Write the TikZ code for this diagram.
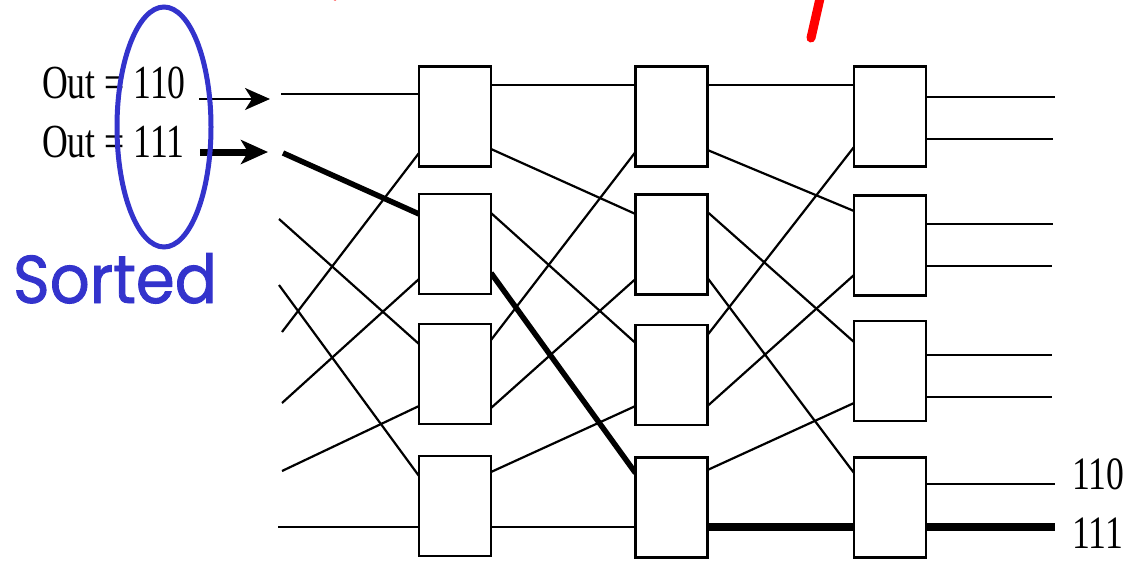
\documentclass[tikz,border=0pt]{standalone}
\usepackage{fontspec}
\setmainfont{Liberation Serif}
\newfontfamily\sortfont[FakeBold=1.3]{Poppins}
\usetikzlibrary{arrows.meta,backgrounds}
\definecolor{sortblue}{RGB}{51,51,204}
\definecolor{markred}{RGB}{255,0,0}
\begin{document}
\begin{tikzpicture}[x=1pt,y=-1pt,
  swbox/.style={draw=black,line width=2.3pt,fill=white,minimum width=72pt,minimum height=100pt,inner sep=0pt,outer sep=0pt},
  wire/.style={line width=2.2pt,line cap=butt},
  hot/.style={line width=5.5pt},
  hoth/.style={line width=7.5pt},
  lbl/.style={anchor=base west,inner sep=0pt,outer sep=0pt},
  numfont/.style={font=\fontsize{35.7}{40}\selectfont},
  arrowthin/.style={line width=2.2pt,-{Stealth[length=25pt,width=22pt,inset=7pt]}},
  arrowthick/.style={line width=7pt,-{Stealth[length=27pt,width=24pt,inset=7pt]}}]
\useasboundingbox (0,0) rectangle (1127,560);
\clip (0,0) rectangle (1127,560);

% switch boxes
\node[swbox] (a1) at (455,116.5) {};
\node[swbox] (a2) at (455,244) {};
\node[swbox] (a3) at (455,374) {};
\node[swbox] (a4) at (455,506) {};
\node[swbox] (b1) at (671.5,116.5) {};
\node[swbox] (b2) at (671.5,244.5) {};
\node[swbox] (b3) at (671.5,375) {};
\node[swbox] (b4) at (671.5,507.5) {};
\node[swbox] (c1) at (890,116.5) {};
\node[swbox] (c2) at (890,245.5) {};
\node[swbox] (c3) at (890,371) {};
\node[swbox] (c4) at (890,507.5) {};

% ports
\coordinate (a1-i1) at (a1.west |- 0,94);  \coordinate (a1-i2) at (a1.west |- 0,153);
\coordinate (a2-i1) at (a2.west |- 0,214); \coordinate (a2-i2) at (a2.west |- 0,279);
\coordinate (a3-i1) at (a3.west |- 0,344); \coordinate (a3-i2) at (a3.west |- 0,406);
\coordinate (a4-i1) at (a4.west |- 0,476); \coordinate (a4-i2) at (a4.west |- 0,527);
\coordinate (a1-o1) at (a1.east |- 0,85);  \coordinate (a1-o2) at (a1.east |- 0,149);
\coordinate (a2-o1) at (a2.east |- 0,213); \coordinate (a2-o2) at (a2.east |- 0,273);
\coordinate (a3-o1) at (a3.east |- 0,340); \coordinate (a3-o2) at (a3.east |- 0,408);
\coordinate (a4-o1) at (a4.east |- 0,472); \coordinate (a4-o2) at (a4.east |- 0,527);

\coordinate (b1-i1) at (b1.west |- 0,85);  \coordinate (b1-i2) at (b1.west |- 0,152);
\coordinate (b2-i1) at (b2.west |- 0,214); \coordinate (b2-i2) at (b2.west |- 0,279);
\coordinate (b3-i1) at (b3.west |- 0,343); \coordinate (b3-i2) at (b3.west |- 0,406);
\coordinate (b4-i1) at (b4.west |- 0,473); \coordinate (b4-i2) at (b4.west |- 0,527);
\coordinate (b1-o1) at (b1.east |- 0,85);  \coordinate (b1-o2) at (b1.east |- 0,150);
\coordinate (b2-o1) at (b2.east |- 0,212); \coordinate (b2-o2) at (b2.east |- 0,278);
\coordinate (b3-o1) at (b3.east |- 0,335); \coordinate (b3-o2) at (b3.east |- 0,406);
\coordinate (b4-o1) at (b4.east |- 0,470); \coordinate (b4-o2) at (b4.east |- 0,527);

\coordinate (c1-i1) at (c1.west |- 0,85);  \coordinate (c1-i2) at (c1.west |- 0,147);
\coordinate (c2-i1) at (c2.west |- 0,211); \coordinate (c2-i2) at (c2.west |- 0,275);
\coordinate (c3-i1) at (c3.west |- 0,342); \coordinate (c3-i2) at (c3.west |- 0,403);
\coordinate (c4-i1) at (c4.west |- 0,473); \coordinate (c4-i2) at (c4.west |- 0,527);
\coordinate (c1-o1) at (c1.east |- 0,97);  \coordinate (c1-o2) at (c1.east |- 0,139);
\coordinate (c2-o1) at (c2.east |- 0,224); \coordinate (c2-o2) at (c2.east |- 0,266);
\coordinate (c3-o1) at (c3.east |- 0,355); \coordinate (c3-o2) at (c3.east |- 0,397);
\coordinate (c4-o1) at (c4.east |- 0,484); \coordinate (c4-o2) at (c4.east |- 0,527);

% free ends
\coordinate (in0) at (281,94);  \coordinate (in1) at (283,153);
\coordinate (in2) at (279,219); \coordinate (in3) at (279,285);
\coordinate (in4) at (282,332); \coordinate (in5) at (282,403);
\coordinate (in6) at (282,471); \coordinate (in7) at (278,527);
\coordinate (out0) at (1055,97);  \coordinate (out1) at (1053,139);
\coordinate (out2) at (1053,224); \coordinate (out3) at (1052,266);
\coordinate (out4) at (1052,355); \coordinate (out5) at (1052,397);
\coordinate (out6) at (1055,484); \coordinate (out7) at (1055,527);

\begin{scope}[on background layer]
% stage 0
\draw[wire] (in0) -- (a1-i1);
\draw[hot]  (in1) -- (a2-i1);
\draw[wire] (in2) -- (a3-i1);
\draw[wire] (in3) -- (a4-i1);
\draw[wire] (in4) -- (a1-i2);
\draw[wire] (in5) -- (a2-i2);
\draw[wire] (in6) -- (a3-i2);
\draw[wire] (in7) -- (a4-i2);
% stage 1
\draw[wire] (a1-o1) -- (b1-i1);
\draw[wire] (a1-o2) -- (b2-i1);
\draw[wire] (a2-o1) -- (b3-i1);
\draw[hot]  (a2-o2) -- (b4-i1);
\draw[wire] (a3-o1) -- (b1-i2);
\draw[wire] (a3-o2) -- (b2-i2);
\draw[wire] (a4-o1) -- (b3-i2);
\draw[wire] (a4-o2) -- (b4-i2);
% stage 2
\draw[wire] (b1-o1) -- (c1-i1);
\draw[wire] (b1-o2) -- (c2-i1);
\draw[wire] (b2-o1) -- (c3-i1);
\draw[wire] (b2-o2) -- (c4-i1);
\draw[wire] (b3-o1) -- (c1-i2);
\draw[wire] (b3-o2) -- (c2-i2);
\draw[wire] (b4-o1) -- (c3-i2);
\draw[hoth] (b4-o2) -- (c4-i2);
% outputs
\draw[wire] (c1-o1) -- (out0);
\draw[wire] (c1-o2) -- (out1);
\draw[wire] (c2-o1) -- (out2);
\draw[wire] (c2-o2) -- (out3);
\draw[wire] (c3-o1) -- (out4);
\draw[wire] (c3-o2) -- (out5);
\draw[wire] (c4-o1) -- (out6);
\draw[hoth] (c4-o2) -- (out7);
\end{scope}

% labels
\node[lbl,numfont] (l110) at (42,98) {\scalebox{1}[1.33]{Out = 110}};
\node[lbl,numfont] (l111) at (42,157) {\scalebox{1}[1.33]{Out = 111}};
\coordinate (s110) at (199,99);  \coordinate (e110) at (270,99);
\coordinate (s111) at (200,152); \coordinate (e111) at (268,152);
\draw[arrowthin] (s110) -- (e110);
\draw[arrowthick] (s111) -- (e111);

\node[lbl,numfont] (r110) at (1072,489) {\scalebox{1}[1.3]{110}};
\node[lbl,numfont] (r111) at (1072,548) {\scalebox{1}[1.3]{111}};

\node[lbl,text=sortblue] (sorted) at (13,303) {\resizebox{204pt}{50pt}{\sortfont Sorted}};
\draw[sortblue,line width=5pt] (164,127) ellipse [x radius=47, y radius=120];

% red marks at top edge
\draw[markred,line width=9pt,line cap=round] (821,-6) -- (811,38);
\fill[markred] (335,-3) circle [radius=3.6];
\end{tikzpicture}
\end{document}
